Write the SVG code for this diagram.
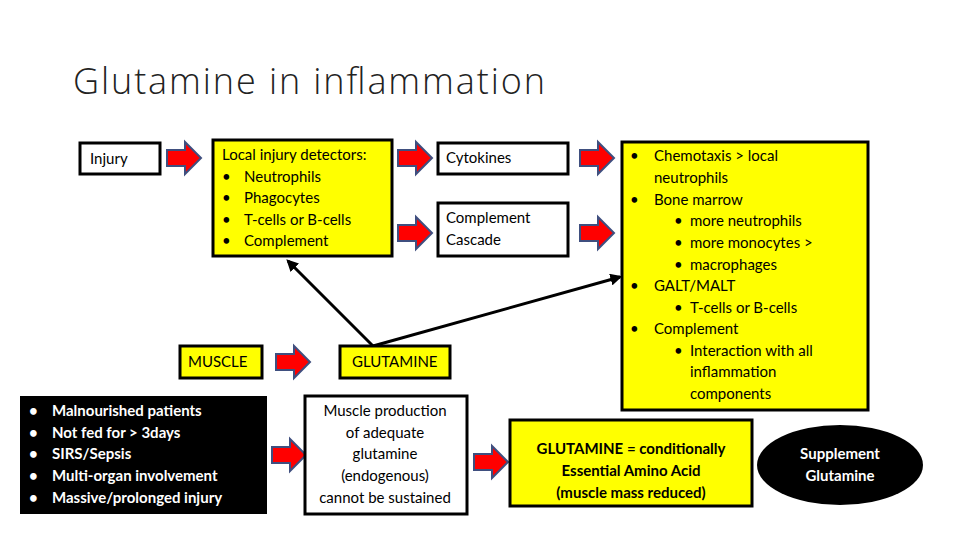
<svg xmlns="http://www.w3.org/2000/svg" width="960" height="540" viewBox="0 0 960 540">
<style>
.t{font-family:Lato,"Open Sans","Liberation Sans",sans-serif;font-size:15px;fill:#000}
.b{font-weight:bold}
.w{fill:#fff}
.box{fill:#fff;stroke:#000;stroke-width:3}
.yb{fill:#ffff00;stroke:#000;stroke-width:3}
.c{text-anchor:middle}
.con{stroke:#000;stroke-width:3;fill:none;marker-end:url(#ah)}
</style>
<defs>
<marker id="ah" viewBox="0 0 10 10" refX="8" refY="5" markerWidth="4" markerHeight="4" orient="auto"><path d="M0,0 L10,5 L0,10 Z" fill="#000"/></marker>
<path id="ra" d="M0,8 H18 V0 L34,16 L18,32 V24 H0 Z" fill="#ff0000" stroke="#3f4f7f" stroke-width="2"/>
</defs>
<rect width="960" height="540" fill="#fff"/>
<text x="73" y="94" font-family="'Open Sans','Liberation Sans',sans-serif" font-weight="300" font-size="36" fill="#222" textLength="472">Glutamine in inflammation</text>

<g id="connectors">
<use href="#ra" x="167" y="142"/>
<use href="#ra" x="398" y="142"/>
<use href="#ra" x="398" y="217"/>
<use href="#ra" x="580" y="142"/>
<use href="#ra" x="580" y="217"/>
<use href="#ra" x="276" y="346"/>
<use href="#ra" x="272" y="439"/>
<use href="#ra" x="474" y="446"/>
<line class="con" x1="373" y1="346" x2="288" y2="261"/>
<line class="con" x1="373" y1="346" x2="620" y2="277"/>
</g>

<g id="injury"><rect class="box" x="80" y="143" width="80" height="31"/><text class="t" x="90" y="164">Injury</text></g>
<g id="detectors"><rect class="yb" x="213" y="140" width="179" height="116"/>
<text class="t" x="222" y="160">Local injury detectors:</text>
<text class="t" x="222" y="182">•</text><text class="t" x="244" y="182">Neutrophils</text>
<text class="t" x="222" y="203">•</text><text class="t" x="244" y="203">Phagocytes</text>
<text class="t" x="222" y="225">•</text><text class="t" x="244" y="225">T-cells or B-cells</text>
<text class="t" x="222" y="246">•</text><text class="t" x="244" y="246">Complement</text></g>
<g id="cytokines"><rect class="box" x="438" y="143" width="130" height="31"/><text class="t" x="446" y="163">Cytokines</text></g>
<g id="complement"><rect class="box" x="438" y="203" width="130" height="53"/><text class="t" x="446" y="223">Complement</text><text class="t" x="446" y="245">Cascade</text></g>
<g id="effects"><rect class="yb" x="622" y="142" width="246" height="268"/>
<text class="t" x="630" y="161">•</text><text class="t" x="654" y="161">Chemotaxis &gt; local</text>
<text class="t" x="654" y="183">neutrophils</text>
<text class="t" x="630" y="205">•</text><text class="t" x="654" y="205">Bone marrow</text>
<text class="t" x="674" y="226">•</text><text class="t" x="690" y="226">more neutrophils</text>
<text class="t" x="674" y="248">•</text><text class="t" x="690" y="248">more monocytes &gt;</text>
<text class="t" x="674" y="270">•</text><text class="t" x="690" y="270">macrophages</text>
<text class="t" x="630" y="291">•</text><text class="t" x="654" y="291">GALT/MALT</text>
<text class="t" x="674" y="313">•</text><text class="t" x="690" y="313">T-cells or B-cells</text>
<text class="t" x="630" y="334">•</text><text class="t" x="654" y="334">Complement</text>
<text class="t" x="674" y="356">•</text><text class="t" x="690" y="356">Interaction with all</text>
<text class="t" x="690" y="377">inflammation</text>
<text class="t" x="690" y="399">components</text></g>
<g id="muscle"><rect class="yb" x="180" y="346" width="82" height="32"/><text class="t" x="188" y="367">MUSCLE</text></g>
<g id="glutamine"><rect class="yb" x="340" y="346" width="110" height="32"/><text class="t" x="352" y="367">GLUTAMINE</text></g>
<g id="conditions"><rect x="20" y="396" width="247" height="118" fill="#000"/>
<text class="t b w" x="29" y="416">•</text><text class="t b w" x="52" y="416">Malnourished patients</text>
<text class="t b w" x="29" y="438">•</text><text class="t b w" x="52" y="438">Not fed for &gt; 3days</text>
<text class="t b w" x="29" y="459">•</text><text class="t b w" x="52" y="459">SIRS/Sepsis</text>
<text class="t b w" x="29" y="481">•</text><text class="t b w" x="52" y="481">Multi-organ involvement</text>
<text class="t b w" x="29" y="503">•</text><text class="t b w" x="52" y="503">Massive/prolonged injury</text></g>
<g id="production"><rect class="box" x="305" y="396" width="162" height="118"/>
<text class="t c" x="385" y="416">Muscle production</text>
<text class="t c" x="385" y="438">of adequate</text>
<text class="t c" x="385" y="459">glutamine</text>
<text class="t c" x="385" y="481">(endogenous)</text>
<text class="t c" x="385" y="503">cannot be sustained</text></g>
<g id="essential"><rect class="yb" x="510" y="420" width="242" height="86"/>
<text class="t b c" x="631" y="454">GLUTAMINE = conditionally</text>
<text class="t b c" x="631" y="476">Essential Amino Acid</text>
<text class="t b c" x="631" y="498">(muscle mass reduced)</text></g>
<g id="supplement"><ellipse cx="840" cy="465" rx="83" ry="40" fill="#000"/>
<text class="t b w c" x="840" y="459">Supplement</text>
<text class="t b w c" x="840" y="481">Glutamine</text></g>
</svg>
